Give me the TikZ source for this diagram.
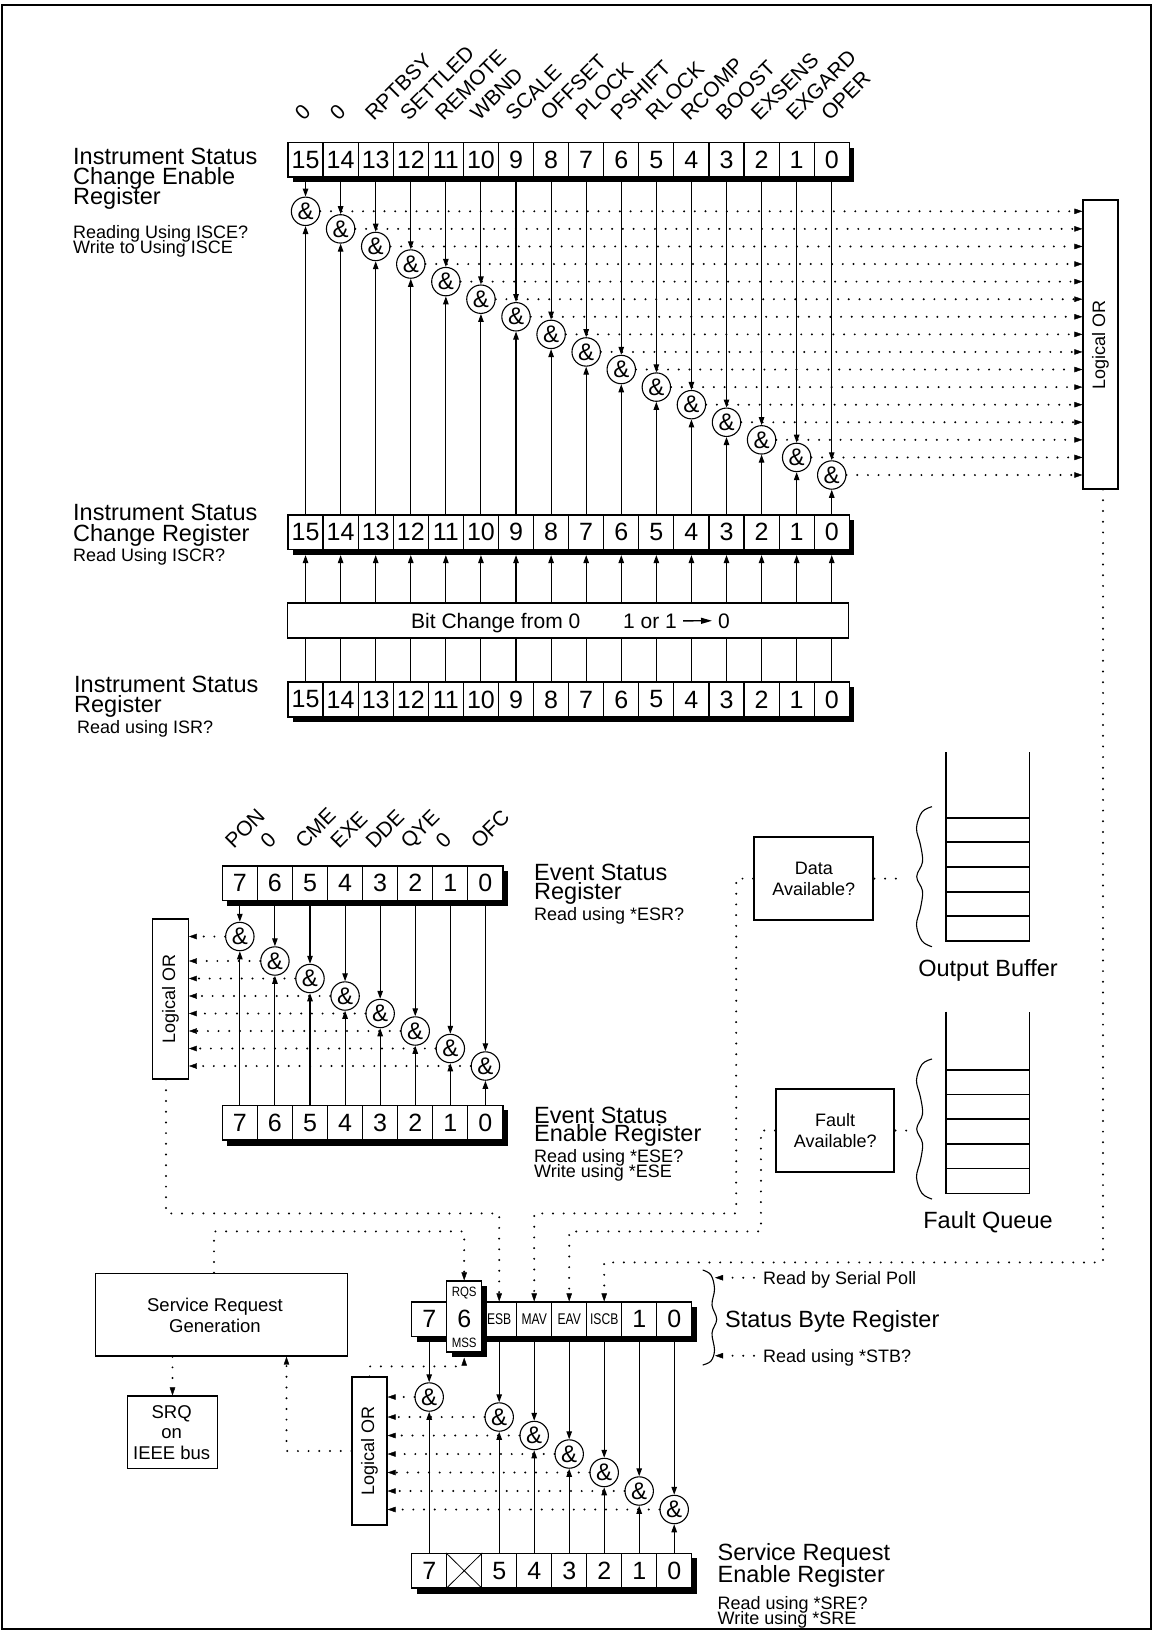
\documentclass[tikz,border=0pt]{standalone}
\usepackage{fontspec}
\usepackage{graphicx}
\setmainfont{Liberation Sans}
\usetikzlibrary{arrows.meta}
\newcommand\fs[1]{\fontsize{#1}{#1}\selectfont}
\newcommand\nar[1]{\scalebox{0.78}[1]{#1}}
\begin{document}
\begin{tikzpicture}[x=1pt,y=-1pt,
  cell/.style={draw,line width=1.2pt,fill=white,minimum width=35.08pt,minimum height=34.5pt,inner sep=0pt,font=\fs{25}},
  gate/.style={draw,circle,line width=1.1pt,fill=white,minimum size=28.4pt,inner sep=0pt,font=\fs{24}},
  sigar/.style={line width=1.1pt,-{Triangle[length=8pt,width=5.5pt]}},
  thinln/.style={line width=1.1pt},
  dotln/.style={line width=2.2pt,dash pattern=on 0pt off 10.7pt,line cap=round},
  dotar/.style={dotln,-{Triangle[length=8pt,width=5.5pt,line width=0.4pt]}},
  txtbig/.style={font=\fs{23.5},inner sep=0pt,anchor=base west},
  txtsm/.style={font=\fs{18},inner sep=0pt,anchor=base west},
  txtc/.style={inner sep=0pt,anchor=base},
  rlab/.style={font=\fs{21},rotate=45,anchor=base west,inner sep=0pt},
  orbox/.style={draw,line width=1.2pt,fill=white,inner sep=0pt},
  orlab/.style={rotate=90,font=\fs{18},inner sep=0pt},
  shad/.style={fill=black},
  brc/.style={line width=1.1pt},
]
\useasboundingbox (0,0) rectangle (1153,1631);
\draw[line width=2.4pt] (2,5) rectangle (1151,1629);

% ---------- Instrument Status Change Enable Register ----------
\fill[shad] (293,147.5) rectangle (854.3,182);
\foreach \b in {15,...,0} {
  \node[cell] (e\b) at ({305.54+35.08*(15-\b)},159.75) {\b};
}
\foreach \b/\t in {15/0,14/0,13/RPTBSY,12/SETTLED,11/REMOTE,10/WBND,9/SCALE,8/OFFSET,7/PLOCK,6/PSHIFT,5/RLOCK,4/RCOMP,3/BOOST,2/EXSENS,1/EXGARD,0/OPER}
  \node[rlab] (el\b) at ({303.5+35.08*(15-\b)},122) {\t};
\foreach \b in {15,...,0}
  \node[gate] (ge\b) at ({305.54+35.08*(15-\b)},{475-17.58*\b}) {\&};
\node[orbox,minimum width=35pt,minimum height=289pt] (orT) at (1100.5,344.5) {};
\node[orlab] (orTl) at (orT.center) {Logical OR};

% ---------- Instrument Status Change Register ----------
\fill[shad] (293,520) rectangle (854.3,554.5);
\foreach \b in {15,...,0}
  \node[cell] (c\b) at ({305.54+35.08*(15-\b)},532.25) {\b};
\node[draw,line width=1.2pt,minimum width=561pt,minimum height=35pt,inner sep=0pt] (bc) at (567.6,620.5) {};
\node[txtc,anchor=base west,font=\fs{21}] (bc1) at (411,628) {Bit Change from 0};
\node[txtc,anchor=base west,font=\fs{21}] (bc2) at (623,628) {1 or 1};
\node[txtc,anchor=base west,font=\fs{21}] (bc3) at (718,628) {0};
\draw[line width=1.3pt,-{Triangle[length=11pt,width=6pt]}] ([xshift=6pt]bc2.east) -- ([xshift=-6pt]bc3.west);

% ---------- Instrument Status Register ----------
\fill[shad] (293,687) rectangle (854.3,722);
\foreach \b in {15,...,0}
  \node[cell,minimum height=35pt] (s\b) at ({305.54+35.08*(15-\b)},699.5) {\b};

\foreach \b in {15,...,0} {
  \draw[sigar] (e\b.south) -- (ge\b.north);
  \draw[sigar] (c\b.north) -- (ge\b.south);
  \draw[dotar] (ge\b.east) -- (orT.west |- ge\b.east);
  \draw[sigar] (bc.north -| c\b) -- ([yshift=-5pt]c\b.south);
  \draw[thinln] (s\b.north) -- (bc.south -| s\b);
}

\node[txtbig] (l1a) at (73,164) {Instrument Status};
\node[txtbig] (l1b) at (73,184) {Change Enable};
\node[txtbig] (l1c) at (73,204) {Register};
\node[txtsm] (l1d) at (73,238) {Reading Using ISCE?};
\node[txtsm] (l1e) at (73,253) {Write to Using ISCE};
\node[txtbig] (l2a) at (73,520) {Instrument Status};
\node[txtbig] (l2b) at (73,541) {Change Register};
\node[txtsm] (l2c) at (73,561) {Read Using ISCR?};
\node[txtbig] (l3a) at (74,692) {Instrument Status};
\node[txtbig] (l3b) at (74,712) {Register};
\node[txtsm] (l3c) at (77,733) {Read using ISR?};

% ---------- Event Status Register ----------
\fill[shad] (227.3,871) rectangle (507.9,905.5);
\foreach \b in {7,...,0}
  \node[cell] (r\b) at ({239.84+35.08*(7-\b)},883.25) {\b};
\fill[shad] (227.3,1110) rectangle (507.9,1145.5);
\foreach \b in {7,...,0}
  \node[cell] (n\b) at ({239.84+35.08*(7-\b)},1122.75) {\b};
\foreach \b/\t in {7/PON,6/0,5/CME,4/EXE,3/DDE,2/QYE,1/0,0/OFC}
  \node[rlab] (rl\b) at ({233.8+35.08*(7-\b)},850) {\t};
\foreach \b/\y in {7/936.5,6/961,5/978.5,4/996,3/1013.5,2/1031,1/1048.5,0/1066}
  \node[gate] (gr\b) at ({239.84+35.08*(7-\b)},\y) {\&};
\node[orbox,minimum width=35.6pt,minimum height=160pt] (orE) at (170.5,999) {};
\node[orlab] (orEl) at (orE.center) {Logical OR};
\foreach \b in {7,...,0} {
  \draw[sigar] (r\b.south) -- (gr\b.north);
  \draw[sigar] (n\b.north) -- (gr\b.south);
  \draw[dotar] (gr\b.west) -- (orE.east |- gr\b.west);
}
\node[txtbig] (l4a) at (534,880.5) {Event Status};
\node[txtbig] (l4b) at (534,899) {Register};
\node[txtsm] (l4c) at (534,920) {Read using *ESR?};
\node[txtbig] (l5a) at (534,1123) {Event Status};
\node[txtbig] (l5b) at (534,1141.5) {Enable Register};
\node[txtsm] (l5c) at (534,1162.5) {Read using *ESE?};
\node[txtsm] (l5d) at (534,1177) {Write using *ESE};

% ---------- Output buffer / fault queue ----------
\node[draw,line width=2.2pt,minimum width=119pt,minimum height=82.7pt,align=center,font={\fontsize{18}{21}\selectfont},inner sep=0pt] (da) at (813.8,878.6) {Data\\Available?};
\node[draw,line width=2.2pt,minimum width=118.3pt,minimum height=82.4pt,align=center,font={\fontsize{18}{21}\selectfont},inner sep=0pt] (fa) at (835.2,1130.5) {Fault\\Available?};
\draw[thinln] (946,752) -- (946,941) -- (1029.3,941) -- (1029.3,752);
\foreach \y in {818,842,867,892,916} \draw[thinln] (946,\y) -- (1029.3,\y);
\draw[thinln] (946,1011.7) -- (946,1193.3) -- (1029.3,1193.3) -- (1029.3,1011.7);
\foreach \y in {1070,1094.3,1119,1144,1168.7} \draw[thinln] (946,\y) -- (1029.3,\y);
\draw[brc] plot[smooth,tension=0.6] coordinates {(932,806.7) (922,812) (916.5,828) (920.5,845) (922.5,862) (916.7,876.7) (922.5,891) (920.5,908) (916.5,925) (922,941) (932,946.7)};
\draw[brc] plot[smooth,tension=0.6] coordinates {(932,1059) (922,1064.3) (916.5,1080.3) (920.5,1097.3) (922.5,1114.3) (916.7,1129) (922.5,1143.3) (920.5,1160.3) (916.5,1177.3) (922,1193.3) (932,1199)};
\coordinate (obt) at (903,878.6);
\coordinate (fqt) at (913,1130.5);
\draw[dotln] (da.east) -- (obt);
\draw[dotln] (fa.east) -- (fqt);
\node[txtc,font=\fs{23.5}] (obl) at (988,976.7) {Output Buffer};
\node[txtc,font=\fs{23.5}] (fql) at (988,1228) {Fault Queue};

% ---------- Status Byte Register ----------
\fill[shad] (416.7,1307) rectangle (696.7,1341.5);
\node[cell] (b7) at (429.2,1319.25) {7};
\node[cell,font=\fs{15.5}] (b5) at (499.2,1319.25) {\nar{ESB}};
\node[cell,font=\fs{15.5}] (b4) at (534.2,1319.25) {\nar{MAV}};
\node[cell,font=\fs{15.5}] (b3) at (569.2,1319.25) {\nar{EAV}};
\node[cell,font=\fs{15.5}] (b2) at (604.2,1319.25) {\nar{ISCB}};
\node[cell] (b1) at (639.2,1319.25) {1};
\node[cell] (b0) at (674.2,1319.25) {0};
\fill[shad] (451.7,1286) rectangle (486.7,1357);
\node[cell,minimum height=71pt] (b6) at (464.2,1316.5) {};
\node[txtc,anchor=center,font=\fs{25}] (b6t) at (464.2,1319.3) {6};
\node[txtc,anchor=center,font=\fs{13.5}] (rqs) at (464.2,1293.3) {\scalebox{0.85}[1]{RQS}};
\node[txtc,anchor=center,font=\fs{13.5}] (mss) at (464.2,1343.3) {\scalebox{0.85}[1]{MSS}};

\draw[brc] plot[smooth,tension=0.6] coordinates {(702.7,1270) (711,1275) (714.5,1289) (712,1305) (716.7,1319.3) (712,1333) (714.5,1350) (711,1361) (702.7,1365)};
\coordinate (sbt) at (715,1277.7);
\coordinate (sbb) at (715,1355.7);
\coordinate (rbs0) at (754,1277.7);
\coordinate (rst0) at (754,1355.7);
\draw[dotar] (rbs0) -- (sbt);
\draw[dotar] (rst0) -- (sbb);
\node[txtsm] (rbsp) at (763,1284) {Read by Serial Poll};
\node[txtbig] (sbrl) at (725,1327.5) {Status Byte Register};
\node[txtsm] (rstb) at (763,1362) {Read using *STB?};

% ---------- Service Request Enable Register ----------
\fill[shad] (416.7,1558) rectangle (696.7,1593.5);
\foreach \b/\t in {7/7,6/,5/5,4/4,3/3,2/2,1/1,0/0}
  \node[cell] (q\b) at ({429.2+35*(7-\b)},1570.75) {\t};
\draw[line width=0.8pt] (q6.north west) -- (q6.south east) (q6.south west) -- (q6.north east);
\foreach \b/\y in {7/1397,5/1417,4/1435.5,3/1454,2/1472.5,1/1491,0/1509.5}
  \node[gate] (gq\b) at ({429.2+35*(7-\b)},\y) {\&};
\node[orbox,minimum width=35pt,minimum height=148pt] (orS) at (369.5,1451) {};
\node[orlab] (orSl) at (orS.center) {Logical OR};
\foreach \b in {7,5,4,3,2,1,0} {
  \draw[sigar] (b\b.south) -- (gq\b.north);
  \draw[sigar] (q\b.north) -- (gq\b.south);
  \draw[dotar] (gq\b.west) -- (orS.east |- gq\b.west);
}
\node[txtbig] (l6a) at (717.5,1560) {Service Request};
\node[txtbig] (l6b) at (717.5,1582) {Enable Register};
\node[txtsm] (l6c) at (717.5,1609) {Read using *SRE?};
\node[txtsm] (l6d) at (717.5,1624) {Write using *SRE};

% ---------- Service request generation ----------
\node[draw,line width=1.2pt,minimum width=251.6pt,minimum height=82.7pt] (srg) at (221.5,1314.7) {};
\node[txtc,font=\fs{18.5}] (srg1) at (215,1311.5) {Service Request};
\node[txtc,font=\fs{18.5}] (srg2) at (215,1332.5) {Generation};
\node[draw,line width=1.2pt,minimum width=90.4pt,minimum height=72.3pt] (srq) at (172.5,1432.2) {};
\node[txtc,font=\fs{18.5}] (srq1) at (171.7,1418) {SRQ};
\node[txtc,font=\fs{18.5}] (srq2) at (171.7,1438.5) {on};
\node[txtc,font=\fs{18.5}] (srq3) at (171.7,1459) {IEEE bus};

% ---------- dotted connectors ----------
\draw[dotar] (srg.south -| srq.north) -- (srq.north);
\draw[dotar] (orS.west) -| ([xshift=65pt]srg.south);
\draw[dotar] (orS.north) -- ++(0,-10) -| ([yshift=-5pt]b6.south);
\draw[dotar] ([xshift=-7.5pt]srg.north) |- ([yshift=49pt]b6.north) -- (b6.north);
\draw[dotar] ([xshift=-4.5pt]orE.south) |- ([yshift=88pt]b5.north) -- (b5.north);
\draw[dotar] (da.west) -- ++(-17,0) |- ([yshift=88pt]b4.north) -- (b4.north);
\draw[dotar] (fa.west) -- ++(-14,0) |- ([yshift=70pt]b3.north) -- (b3.north);
\draw[dotar] ([xshift=2.5pt]orT.south) |- ([yshift=39pt]b2.north) -- (b2.north);
\end{tikzpicture}
\end{document}
